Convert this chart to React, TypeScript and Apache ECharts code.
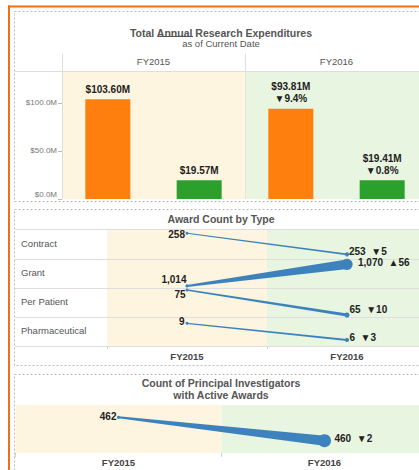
import { useEffect, useRef } from 'react';
import * as echarts from 'echarts';

// ---------- data ----------
const YEARS = ['FY2015', 'FY2016'];
const EXP_TOTAL = [103.6, 93.81];
const EXP_OTHER = [19.57, 19.41];
const EXP_TICKS = [0, 50, 100];

const AWARD_TYPES = ['Contract', 'Grant', 'Per Patient', 'Pharmaceutical'];
const AWARDS_FY2015 = [258, 1014, 75, 9];
const AWARDS_FY2016 = [253, 1070, 65, 6];

const PI_COUNTS = [462, 460];

// ---------- styles / layout ----------
const BLUE = '#3d82bd';
const ORANGE = '#ff7f0e';
const GREEN = '#2ca02c';
const CREAM = '#fdf5df';
const MINT = '#e8f5e0';
const FONT = '"Liberation Sans", Arial, sans-serif';
const GRID_LINE = '#dedede';

const ROW_EDGES = [229, 259, 288, 317, 346];
const ROW_AXIS = [[251.9, 259.0], [1008.8, 1083.7], [64.2, 75.8], [4.92, 10.13]];
const ROW_W0 = [1.2, 1.8, 1.3, 1.2];
const ROW_W1 = [1.6, 9.5, 3, 1.8];
const ROW_R0 = [1.5, 1.6, 1.5, 1.5];
const ROW_R1 = [2.1, 5.6, 2.5, 2.1];
const START_DX = [-2, -0.5, -1.5, -2.5];
const START_DY = [1.5, -6.5, 4, -1.5];
const END_DX = [2, 11, 2.5, 2.5];
const END_DY = [-2.5, -1.5, -6, -2.3];

const fmt = (n: number) => n.toLocaleString('en-US');
const delta = (a: number, b: number) => {
  const d = b - a;
  return (d < 0 ? '▼' : '▲') + fmt(Math.abs(d));
};

function slopeRender(cfg: any) {
  return (_params: any, api: any) => {
    const v0 = api.value(1);
    const v1 = api.value(3);
    const p0 = api.coord([api.value(0), v0]);
    const p1 = api.coord([api.value(2), v1]);
    const dx = p1[0] - p0[0];
    const dy = p1[1] - p0[1];
    const len = Math.sqrt(dx * dx + dy * dy) || 1;
    const nx = -dy / len;
    const ny = dx / len;
    const h0 = cfg.w0 / 2;
    const h1 = cfg.w1 / 2;
    const pts = [
      [p0[0] + nx * h0, p0[1] + ny * h0],
      [p1[0] + nx * h1, p1[1] + ny * h1],
      [p1[0] - nx * h1, p1[1] - ny * h1],
      [p0[0] - nx * h0, p0[1] - ny * h0],
    ];
    const textStyle = {
      fill: '#222',
      fontFamily: FONT,
      fontSize: 10,
      fontWeight: 'bold',
      verticalAlign: 'middle',
    };
    return {
      type: 'group',
      children: [
        { type: 'polygon', shape: { points: pts }, style: { fill: BLUE } },
        { type: 'circle', shape: { cx: p0[0], cy: p0[1], r: cfg.r0 }, style: { fill: BLUE } },
        { type: 'circle', shape: { cx: p1[0], cy: p1[1], r: cfg.r1 }, style: { fill: BLUE } },
        {
          type: 'text',
          x: p0[0] + cfg.sdx,
          y: p0[1] + cfg.sdy,
          style: { ...textStyle, text: fmt(v0), align: 'right' },
        },
        {
          type: 'text',
          x: p1[0] + cfg.edx,
          y: p1[1] + cfg.edy,
          style: { ...textStyle, text: fmt(v1) + '  ' + delta(v0, v1), align: 'left' },
        },
      ],
    };
  };
}

export default function App() {
  const ref = useRef<HTMLDivElement>(null);

  useEffect(() => {
    if (!ref.current) return;
    const chart = echarts.init(ref.current, null, { renderer: 'svg' });

    const grids: any[] = [
      { left: 62, top: 71, width: 366, height: 128, outerBoundsMode: 'none' },
    ];
    const xAxes: any[] = [
      {
        type: 'category',
        gridIndex: 0,
        data: YEARS,
        position: 'top',
        axisLine: { show: false },
        axisTick: { show: false },
        axisLabel: { color: '#555', fontSize: 9.5, fontFamily: FONT, margin: 5 },
        splitArea: { show: true, areaStyle: { color: [CREAM, MINT] } },
        splitLine: { show: true, lineStyle: { color: '#e4e4e4', width: 1 } },
      },
    ];
    const yAxes: any[] = [
      {
        type: 'value',
        gridIndex: 0,
        min: 0,
        max: 133,
        interval: 50,
        axisLine: { show: true, lineStyle: { color: GRID_LINE } },
        axisTick: {
          show: true,
          length: 4,
          lineStyle: { color: '#bbb' },
          customValues: EXP_TICKS,
        },
        axisLabel: {
          color: '#777',
          fontSize: 8,
          fontFamily: FONT,
          margin: 5,
          customValues: EXP_TICKS,
          formatter: (v: number) => (v === 0 ? '{z|$' + v.toFixed(1) + 'M}' : '$' + v.toFixed(1) + 'M'),
          rich: { z: { fontSize: 8, color: '#777', fontFamily: FONT, padding: [0, 0, 10, 0] } },
        },
        splitLine: { show: false },
      },
    ];

    const barLabel = (arr: number[]) => ({
      show: true,
      position: 'top',
      distance: 4,
      color: '#222',
      fontWeight: 'bold',
      fontSize: 10,
      fontFamily: FONT,
      lineHeight: 12,
      formatter: (p: any) => {
        const v = arr[p.dataIndex];
        const s = '$' + v.toFixed(2) + 'M';
        if (p.dataIndex === 0) return s;
        const prev = arr[p.dataIndex - 1];
        const pct = ((v - prev) / prev) * 100;
        return s + '\n' + (pct < 0 ? '▼' : '▲') + Math.abs(pct).toFixed(1) + '%';
      },
    });

    const series: any[] = [
      {
        type: 'bar',
        name: 'Total',
        xAxisIndex: 0,
        yAxisIndex: 0,
        data: EXP_TOTAL,
        barWidth: 45,
        barGap: '103%',
        itemStyle: { color: ORANGE },
        label: barLabel(EXP_TOTAL),
      },
      {
        type: 'bar',
        name: 'Other',
        xAxisIndex: 0,
        yAxisIndex: 0,
        data: EXP_OTHER,
        barWidth: 45,
        barGap: '103%',
        itemStyle: { color: GREEN },
        label: barLabel(EXP_OTHER),
      },
    ];

    // award rows
    AWARD_TYPES.forEach((_t, i) => {
      const gi = i + 1;
      const last = i === AWARD_TYPES.length - 1;
      grids.push({
        left: 107,
        width: 320,
        top: ROW_EDGES[i],
        height: ROW_EDGES[i + 1] - ROW_EDGES[i],
        outerBoundsMode: 'none',
      });
      xAxes.push({
        type: 'category',
        gridIndex: gi,
        data: YEARS,
        axisLine: { show: false },
        axisTick: { show: last, length: 3, lineStyle: { color: '#d0d0d0' } },
        axisLabel: {
          show: last,
          color: '#444',
          fontWeight: 'bold',
          fontSize: 9.5,
          fontFamily: FONT,
          margin: 5,
        },
        splitArea: { show: true, areaStyle: { color: [CREAM, MINT] } },
        splitLine: { show: false },
      });
      yAxes.push({
        type: 'value',
        gridIndex: gi,
        min: ROW_AXIS[i][0],
        max: ROW_AXIS[i][1],
        show: false,
      });
      series.push({
        type: 'custom',
        name: AWARD_TYPES[i],
        xAxisIndex: gi,
        yAxisIndex: gi,
        clip: false,
        encode: { x: [0, 2], y: [1, 3] },
        data: [[0, AWARDS_FY2015[i], 1, AWARDS_FY2016[i]]],
        renderItem: slopeRender({
          w0: ROW_W0[i],
          w1: ROW_W1[i],
          r0: ROW_R0[i],
          r1: ROW_R1[i],
          sdx: START_DX[i],
          sdy: START_DY[i],
          edx: END_DX[i],
          edy: END_DY[i],
        }),
        z: 5,
      });
    });

    // principal investigators
    grids.push({ left: 15.5, width: 412, top: 405, height: 48, outerBoundsMode: 'none' });
    xAxes.push({
      type: 'category',
      gridIndex: 5,
      data: YEARS,
      axisLine: { show: false },
      axisTick: { show: true, length: 4, lineStyle: { color: '#d0d0d0' } },
      axisLabel: { color: '#444', fontWeight: 'bold', fontSize: 9.5, fontFamily: FONT, margin: 4 },
      splitArea: { show: true, areaStyle: { color: [CREAM, MINT] } },
      splitLine: { show: false },
    });
    yAxes.push({ type: 'value', gridIndex: 5, min: 458.95, max: 463.05, show: false });
    series.push({
      type: 'custom',
      name: 'Principal Investigators',
      xAxisIndex: 5,
      yAxisIndex: 5,
      clip: false,
      encode: { x: [0, 2], y: [1, 3] },
      data: [[0, PI_COUNTS[0], 1, PI_COUNTS[1]]],
      renderItem: slopeRender({ w0: 2, w1: 10, r0: 1.6, r1: 6.5, sdx: -2, sdy: -1, edx: 10, edy: -2 }),
      z: 5,
    });

    const hline = (x1: number, x2: number, y: number, color = GRID_LINE) => ({
      type: 'line',
      shape: { x1, y1: y, x2, y2: y },
      style: { stroke: color, lineWidth: 1 },
      z: 3,
      silent: true,
    });
    const vline = (x: number, y1: number, y2: number, color = GRID_LINE) => ({
      type: 'line',
      shape: { x1: x, y1, x2: x, y2 },
      style: { stroke: color, lineWidth: 1 },
      z: 3,
      silent: true,
    });
    const dashedRect = (x: number, y: number, w: number, h: number) => ({
      type: 'rect',
      shape: { x, y, width: w, height: h },
      style: { fill: null, stroke: '#bdbdbd', lineWidth: 1, lineDash: [2, 2] },
      z: 4,
      silent: true,
    });
    const title = (text: string, y: number, bold = true, size = 10.5) => ({
      type: 'text',
      x: 221,
      y,
      style: {
        text,
        fill: '#555',
        fontFamily: FONT,
        fontSize: size,
        fontWeight: bold ? 'bold' : 'normal',
        align: 'center',
        verticalAlign: 'middle',
      },
      z: 4,
    });

    const graphics: any[] = [
      // orange frame
      { type: 'line', shape: { x1: 8, y1: 6.5, x2: 419, y2: 6.5 }, style: { stroke: '#e8721c', lineWidth: 2 }, z: 5 },
      { type: 'line', shape: { x1: 9, y1: 5.5, x2: 9, y2: 470 }, style: { stroke: '#e8721c', lineWidth: 2 }, z: 5 },
      // panels
      dashedRect(14.5, 11.5, 420, 190),
      dashedRect(14.5, 209.5, 420, 156),
      dashedRect(14.5, 374.5, 420, 110),
      // panel 1
      title('Total Annual Research Expenditures', 32.5),
      {
        type: 'line',
        shape: { x1: 158, y1: 36.5, x2: 193, y2: 36.5 },
        style: { stroke: '#555', lineWidth: 1 },
        z: 4,
      },
      title('as of Current Date', 43.5, false, 9.5),
      hline(15, 419, 71.5),
      vline(62.5, 54, 71),
      vline(245.5, 54, 71),
      // panel 2
      title('Award Count by Type', 218.5),
      ...ROW_EDGES.map((y) => hline(15, 419, y + 0.5)),
      ...AWARD_TYPES.map((t, i) => ({
        type: 'text',
        x: 21,
        y: (ROW_EDGES[i] + ROW_EDGES[i + 1]) / 2 - 1,
        style: {
          text: t,
          fill: '#555',
          fontFamily: FONT,
          fontSize: 9.5,
          align: 'left',
          verticalAlign: 'middle',
        },
        z: 4,
      })),
      // panel 3
      title('Count of Principal Investigators', 382.5),
      title('with Active Awards', 394.5),
    ];

    chart.setOption({
      animation: false,
      backgroundColor: '#fff',
      grid: grids,
      xAxis: xAxes,
      yAxis: yAxes,
      series,
      graphic: { elements: graphics },
    });

    return () => chart.dispose();
  }, []);

  return (
    <div
      ref={ref}
      style={{ position: 'absolute', left: 0, top: 0, width: 419, height: 470, background: '#fff' }}
    />
  );
}
